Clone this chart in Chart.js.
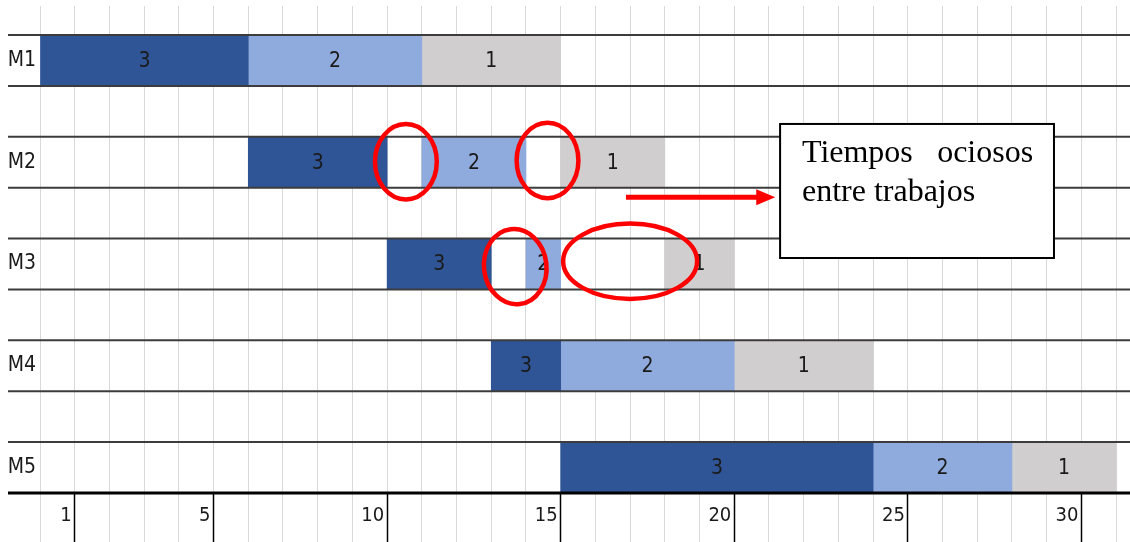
<!DOCTYPE html>
<html>
<head>
<meta charset="utf-8">
<script src="https://cdn.jsdelivr.net/npm/chart.js@4.4.1/dist/chart.umd.min.js"></script>
<style>
  html, body { margin: 0; padding: 0; background: #fff; }
  #wrap { width: 1130px; height: 542px; }
</style>
</head>
<body>
<div id="wrap"><canvas id="gantt" width="1130" height="542"></canvas></div>
<script>
// maquinas y trabajos (inicio, fin) por maquina
const machines = ['M1', 'M2', 'M3', 'M4', 'M5'];
const jobNames = ['3', '2', '1'];
const job3 = [[0, 6], [6, 10], [10, 13], [13, 15], [15, 24]];
const job2 = [[6, 11], [11, 14], [14, 15], [15, 20], [24, 28]];
const job1 = [[11, 15], [15, 18], [18, 20], [20, 24], [28, 31]];
const shownTicks = [1, 5, 10, 15, 20, 25, 30];

const jobColors = ['#2F5597', '#8FAADC', '#D0CECE'];
const narrow = "'Liberation Sans Narrow', 'DejaVu Sans Condensed', sans-serif";

// marcas de tiempos ociosos (en unidades de los ejes)
const idleMarks = [
    { x: 10.54, y: 0.995, rx: 0.89, ry: 0.37, rot: 0 },
    { x: 14.62, y: 0.983, rx: 0.89, ry: 0.37, rot: 0 },
    { x: 13.69, y: 2.026, rx: 0.9, ry: 0.37, rot: -0.12 },
    { x: 17.0, y: 1.973, rx: 1.93, ry: 0.37, rot: 0 }
];

const datasets = [job3, job2, job1].map((spans, k) => ({
    label: jobNames[k],
    data: spans.map((s, i) => ({ x: s, y: i })),
    backgroundColor: jobColors[k],
    borderWidth: 0,
    barThickness: 51,
    grouped: false
}));

const overlay = {
    id: 'overlay',
    afterDatasetsDraw(chart) {
        const ctx = chart.ctx;
        const xs = chart.scales.x, ys = chart.scales.y;
        const X = v => xs.getPixelForValue(v);
        const Y = v => ys.getPixelForValue(v);
        const W = chart.width;
        ctx.save();

        // textos de los trabajos
        ctx.fillStyle = '#1a1a1a';
        ctx.font = '21px ' + narrow;
        ctx.textAlign = 'center';
        ctx.textBaseline = 'middle';
        chart.data.datasets.forEach((ds, k) => {
            chart.getDatasetMeta(k).data.forEach(bar => {
                ctx.fillText(ds.label, (bar.x + bar.base) / 2, bar.y + 1);
            });
        });

        // lineas de las filas
        ctx.strokeStyle = '#3c3c3c';
        ctx.lineWidth = 2;
        machines.forEach((m, i) => {
            [i - 0.25, i + 0.25].forEach(v => {
                if (i === machines.length - 1 && v > i) return;
                ctx.beginPath();
                ctx.moveTo(8, Y(v));
                ctx.lineTo(W, Y(v));
                ctx.stroke();
            });
        });
        ctx.strokeStyle = '#000';
        ctx.lineWidth = 3;
        ctx.beginPath();
        ctx.moveTo(8, Y(machines.length - 0.75));
        ctx.lineTo(W, Y(machines.length - 0.75));
        ctx.stroke();

        // elipses rojas
        ctx.strokeStyle = '#ff0000';
        ctx.lineWidth = 4.5;
        idleMarks.forEach(e => {
            const cx = X(e.x), cy = Y(e.y);
            const rx = X(e.x + e.rx) - cx, ry = Y(e.y + e.ry) - cy;
            ctx.beginPath();
            ctx.ellipse(cx, cy, rx, ry, e.rot, 0, Math.PI * 2);
            ctx.stroke();
        });

        // flecha
        const ay = Y(1.345), ax0 = X(16.88), ax1 = X(21.18);
        ctx.lineWidth = 5;
        ctx.beginPath();
        ctx.moveTo(ax0, ay);
        ctx.lineTo(ax1 - 16, ay);
        ctx.stroke();
        ctx.fillStyle = '#ff0000';
        ctx.beginPath();
        ctx.moveTo(ax1, ay);
        ctx.lineTo(ax1 - 19, ay - 8);
        ctx.lineTo(ax1 - 19, ay + 8);
        ctx.closePath();
        ctx.fill();

        // cuadro de texto
        const bx0 = X(21.32), bx1 = X(29.21), by0 = Y(0.624), by1 = Y(1.941);
        ctx.fillStyle = '#fff';
        ctx.fillRect(bx0, by0, bx1 - bx0, by1 - by0);
        ctx.strokeStyle = '#000';
        ctx.lineWidth = 2;
        ctx.strokeRect(bx0, by0, bx1 - bx0, by1 - by0);
        ctx.fillStyle = '#000';
        ctx.font = "32px 'Liberation Serif', 'DejaVu Serif', serif";
        ctx.textBaseline = 'alphabetic';
        ctx.textAlign = 'left';
        ctx.fillText('Tiempos', X(21.95), Y(1.0));
        ctx.fillText('entre trabajos', X(21.95), Y(1.378));
        ctx.textAlign = 'right';
        ctx.fillText('ociosos', X(28.61), Y(1.0));
        ctx.restore();
    }
};

new Chart(document.getElementById('gantt').getContext('2d'), {
    type: 'bar',
    data: { datasets: datasets },
    options: {
        indexAxis: 'y',
        responsive: false,
        animation: false,
        devicePixelRatio: 1,
        layout: { padding: { top: 6, left: 0, right: 0, bottom: 0 } },
        plugins: {
            legend: { display: false },
            tooltip: { enabled: false }
        },
        scales: {
            x: {
                type: 'linear',
                min: 0,
                max: 31.4,
                offset: false,
                border: { display: false },
                grid: {
                    color: '#d9d9d9',
                    lineWidth: 1,
                    offset: false,
                    tickLength: 49,
                    tickColor: c => shownTicks.includes(c.tick.value) ? '#000' : '#d9d9d9',
                    tickWidth: c => shownTicks.includes(c.tick.value) ? 1.5 : 1
                },
                ticks: {
                    stepSize: 1,
                    includeBounds: false,
                    autoSkip: false,
                    maxRotation: 0,
                    align: 'end',
                    labelOffset: -3,
                    padding: -38,
                    color: '#1a1a1a',
                    font: { family: narrow, size: 20 },
                    callback: v => shownTicks.includes(v) ? String(v) : ''
                },
                afterFit: s => { s.height = 49; s.paddingLeft = 0; s.paddingRight = 0; }
            },
            y: {
                type: 'linear',
                reverse: true,
                min: -0.535,
                max: 4.25,
                offset: false,
                border: { display: false },
                grid: { display: false, drawTicks: false, offset: false },
                afterBuildTicks: s => { s.ticks = machines.map((m, i) => ({ value: i })); },
                ticks: {
                    padding: 4,
                    color: '#1a1a1a',
                    font: { family: narrow, size: 21 },
                    callback: v => machines[v]
                },
                afterFit: s => { s.width = 40; s.paddingTop = 0; s.paddingBottom = 0; }
            }
        }
    },
    plugins: [overlay]
});
</script>
</body>
</html>
